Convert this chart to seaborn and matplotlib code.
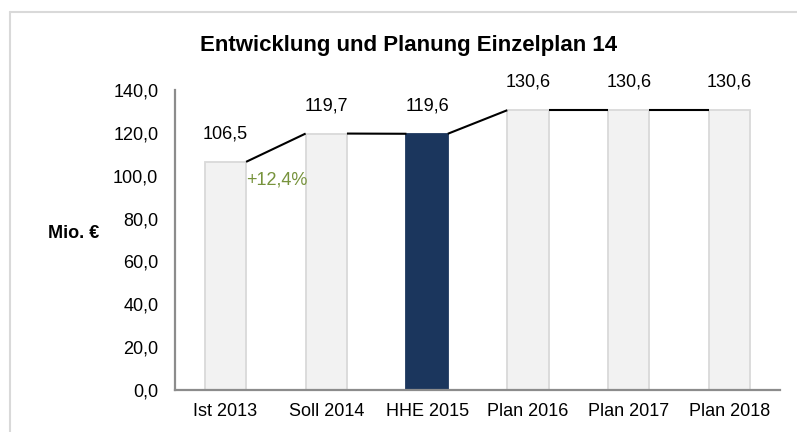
import matplotlib

matplotlib.use("Agg")
import seaborn as sns
import matplotlib.pyplot as plt
from matplotlib.lines import Line2D
from matplotlib.ticker import FuncFormatter, MultipleLocator

# data
categories = ["Ist 2013", "Soll 2014", "HHE 2015", "Plan 2016", "Plan 2017", "Plan 2018"]
values = [106.5, 119.7, 119.6, 130.6, 130.6, 130.6]
bar_colors = ["#f2f2f2", "#f2f2f2", "#1b365d", "#f2f2f2", "#f2f2f2", "#f2f2f2"]
edge_colors = ["#d9d9d9", "#d9d9d9", "#1b365d", "#d9d9d9", "#d9d9d9", "#d9d9d9"]
growth_label = "+12,4%"
growth_y = 98.0

sns.set_style("white")
plt.rcParams["font.family"] = ["Liberation Sans", "DejaVu Sans"]
plt.rcParams["text.color"] = "black"
plt.rcParams["axes.labelcolor"] = "black"


def de_fmt(v, pos=None):
    return f"{v:.1f}".replace(".", ",")


fig = plt.figure(figsize=(7.97, 4.32), dpi=100)
ax = fig.add_axes([0.2196, 0.0972, 0.9787 - 0.2196, 0.7915 - 0.0972])

bar_width = 0.41
sns.barplot(
    x=categories,
    y=values,
    hue=categories,
    palette=bar_colors,
    saturation=1,
    width=bar_width,
    linewidth=1.3,
    legend=False,
    ax=ax,
)
for patch, ec in zip(ax.patches, edge_colors):
    patch.set_edgecolor(ec)

# connector lines between bar tops
for i in range(len(values) - 1):
    ax.plot(
        [i + bar_width / 2, i + 1 - bar_width / 2],
        [values[i], values[i + 1]],
        color="black",
        lw=1.5,
        solid_capstyle="butt",
        zorder=3,
    )

# value labels
for i, v in enumerate(values):
    ax.annotate(
        de_fmt(v),
        xy=(i, v),
        xytext=(0, 20),
        textcoords="offset points",
        ha="center",
        va="center",
        fontsize=13,
        color="black",
    )

ax.text(
    bar_width / 2,
    growth_y,
    growth_label,
    ha="left",
    va="center",
    fontsize=13,
    color="#77933c",
)

ax.set_ylim(0, 140)
ax.set_xlim(-0.5, len(categories) - 0.5)
ax.yaxis.set_major_locator(MultipleLocator(20))
ax.yaxis.set_major_formatter(FuncFormatter(de_fmt))
ax.tick_params(axis="y", length=0, pad=12, labelsize=13, labelcolor="black")
ax.tick_params(axis="x", length=0, pad=9, labelsize=13, labelcolor="black")
ax.set_xlabel("")
ax.set_ylabel("Mio. €", fontsize=13, fontweight="bold", rotation=0, labelpad=0)
ax.yaxis.set_label_coords(-0.167, 0.495)

for side in ["top", "right"]:
    ax.spines[side].set_visible(False)
for side in ["left", "bottom"]:
    ax.spines[side].set_color("#8c8c8c")
    ax.spines[side].set_linewidth(1.6)

fig.suptitle(
    "Entwicklung und Planung Einzelplan 14",
    x=0.512,
    y=1 - 45 / 432,
    va="center",
    fontsize=16,
    fontweight="bold",
    color="black",
)

# outer chart frame (top and left edges visible)
frame_top = 1 - 11.5 / 432
frame_left = 9.5 / 797
fig.add_artist(Line2D([frame_left, 1], [frame_top, frame_top], color="#d9d9d9", lw=1.5))
fig.add_artist(Line2D([frame_left, frame_left], [0, frame_top], color="#d9d9d9", lw=1.5))

fig.savefig("out.png", dpi=100)
plt.close(fig)
